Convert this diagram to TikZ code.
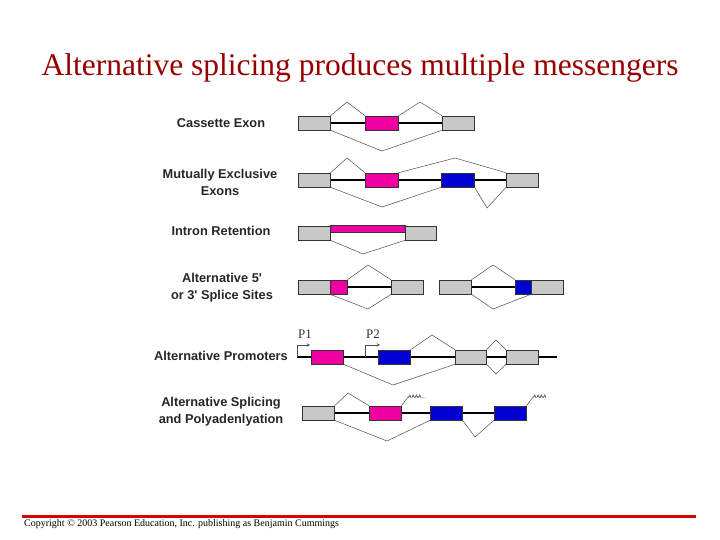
\documentclass[tikz,border=0pt]{standalone}
\usepackage{fontspec}
\setmainfont{Liberation Serif}
\newfontfamily\lab{Liberation Sans}
\definecolor{gbox}{RGB}{200,200,200}
\definecolor{pk}{RGB}{240,0,160}
\definecolor{bl}{RGB}{0,0,210}
\definecolor{tred}{RGB}{150,0,0}
\begin{document}
\begin{tikzpicture}[x=1pt,y=-1pt,
  ex/.style={draw=black!80,line width=0.6pt,minimum height=14pt,inner sep=0pt,anchor=west},
  gr/.style={ex,fill=gbox},
  pe/.style={ex,fill=pk},
  be/.style={ex,fill=bl},
  intr/.style={line width=1.1pt},
  spl/.style={gray!60!black,line width=0.5pt},
  lbl/.style={font=\lab\bfseries\fontsize{12.8}{17}\selectfont,align=center,text=black!85}]
\useasboundingbox (0,0) rectangle (720,540);
\node[font=\fontsize{31.5}{34}\selectfont,text=tred] (title) at (360,68) {Alternative splicing produces multiple messengers};
% labels
\node[lbl] (l1) at (221,123) {Cassette Exon};
\node[lbl] (l2) at (220,182) {Mutually Exclusive\\Exons};
\node[lbl] (l3) at (221,231) {Intron Retention};
\node[lbl] (l4) at (222,288) {Alternative 5'\\or 3' Splice Sites};
\node[lbl] (l5) at (221,356) {Alternative Promoters};
\node[lbl] (l6) at (221,412) {Alternative Splicing\\and Polyadenlyation};
% row 1
\draw[intr] (330,123) -- (442,123);
\node[gr,minimum width=32pt] (a1) at (298,123) {};
\node[pe,minimum width=33pt] (a2) at (365,123) {};
\node[gr,minimum width=32pt] (a3) at (442,123) {};
\draw[spl] (a1.north east) -- (347,102) -- (a2.north west);
\draw[spl] (a2.north east) -- (420,102) -- (a3.north west);
\draw[spl] (a1.south east) -- (382,151) -- (a3.south west);
% row 2
\draw[intr] (330,180) -- (506,180);
\node[gr,minimum width=32pt] (b1) at (298,180) {};
\node[pe,minimum width=33pt] (b2) at (365,180) {};
\node[be,minimum width=33pt] (b3) at (441,180) {};
\node[gr,minimum width=32pt] (b4) at (506,180) {};
\draw[spl] (b1.north east) -- (347,158) -- (b2.north west);
\draw[spl] (b2.north east) -- (455,158) -- (b4.north west);
\draw[spl] (b1.south east) -- (382,207) -- (b3.south west);
\draw[spl] (b3.south east) -- (487,208) -- (b4.south west);
% row 3
\node[gr,minimum width=32pt] (c1) at (298,233) {};
\node[gr,minimum width=31pt] (c3) at (405,233) {};
\node[draw=black!80,fill=pk,line width=0.6pt,minimum width=75pt,minimum height=7pt,inner sep=0pt,anchor=south west] (c2) at (330,233) {};
\draw[spl] (c1.south east) -- (363,254) -- (c3.south west);
% row 4
\draw[intr] (330,287) -- (391,287);
\node[gr,minimum width=32pt] (d1) at (298,287) {};
\node[pe,minimum width=17pt] (d2) at (330,287) {};
\node[gr,minimum width=32pt] (d3) at (391,287) {};
\draw[spl] (d2.north east) -- (368,265) -- (d3.north west);
\draw[spl] (d2.south west) -- (368,309) -- (d3.south west);
\draw[intr] (471,287) -- (531,287);
\node[gr,minimum width=32pt] (e1) at (439,287) {};
\node[be,minimum width=16pt] (e2) at (515,287) {};
\node[gr,minimum width=32pt] (e3) at (531,287) {};
\draw[spl] (e1.north east) -- (493,265) -- (e2.north west);
\draw[spl] (e1.south east) -- (493,309) -- (e3.south west);
% row 5 promoters
\draw[intr] (297,357) -- (557,357);
\node[pe,minimum width=32pt] (f1) at (311,357) {};
\node[be,minimum width=32pt] (f2) at (378,357) {};
\node[gr,minimum width=31pt] (f3) at (455,357) {};
\node[gr,minimum width=32pt] (f4) at (506,357) {};
\coordinate (p1a) at (297,357); \coordinate (p1b) at (297,345);
\coordinate (p2a) at (365,357); \coordinate (p2b) at (365,345);
\draw[spl,-stealth] (p1a) -- (p1b) -- (310,345);
\draw[spl,-stealth] (p2a) -- (p2b) -- (380,345);
\node[font=\fontsize{13}{14}\selectfont,text=black!80] (P1) at (305,334) {P1};
\node[font=\fontsize{13}{14}\selectfont,text=black!80] (P2) at (373,334) {P2};
\draw[spl] (f2.north east) -- (432,335) -- (f3.north west);
\draw[spl] (f3.north east) -- (496,340) -- (f4.north west);
\draw[spl] (f3.south east) -- (496,374) -- (f4.south west);
\draw[spl] (f1.south east) -- (393,385) -- (f3.south west);
% row 6 polyA
\draw[intr] (334,413) -- (494,413);
\node[gr,minimum width=32pt] (g1) at (302,413) {};
\node[pe,minimum width=32pt] (g2) at (369,413) {};
\node[be,minimum width=32pt] (g3) at (430,413) {};
\node[be,minimum width=32pt] (g4) at (494,413) {};
\draw[spl] (g1.north east) -- (348,393) -- (g2.north west);
\draw[spl] (g1.south east) -- (387,441) -- (g3.south west);
\draw[spl] (g3.south east) -- (475,437) -- (g4.south west);
\node[font=\lab\fontsize{5}{5}\selectfont,anchor=west,inner sep=0pt] (aa1) at (408,397) {AAAA...};
\node[font=\lab\fontsize{5}{5}\selectfont,anchor=west,inner sep=0pt] (aa2) at (533,397) {AAAA};
\draw[spl] (g2.north east) -- (aa1.west);
\draw[spl] (g4.north east) -- (aa2.west);
% footer
\coordinate (fl) at (22,516); \coordinate (fr) at (696,516);
\draw[red!85!black,line width=3pt] (fl) -- (fr);
\node[font=\fontsize{10}{11}\selectfont,anchor=west,inner sep=0pt] (copy) at (24,524) {Copyright © 2003 Pearson Education, Inc. publishing as Benjamin Cummings};
\end{tikzpicture}
\end{document}
